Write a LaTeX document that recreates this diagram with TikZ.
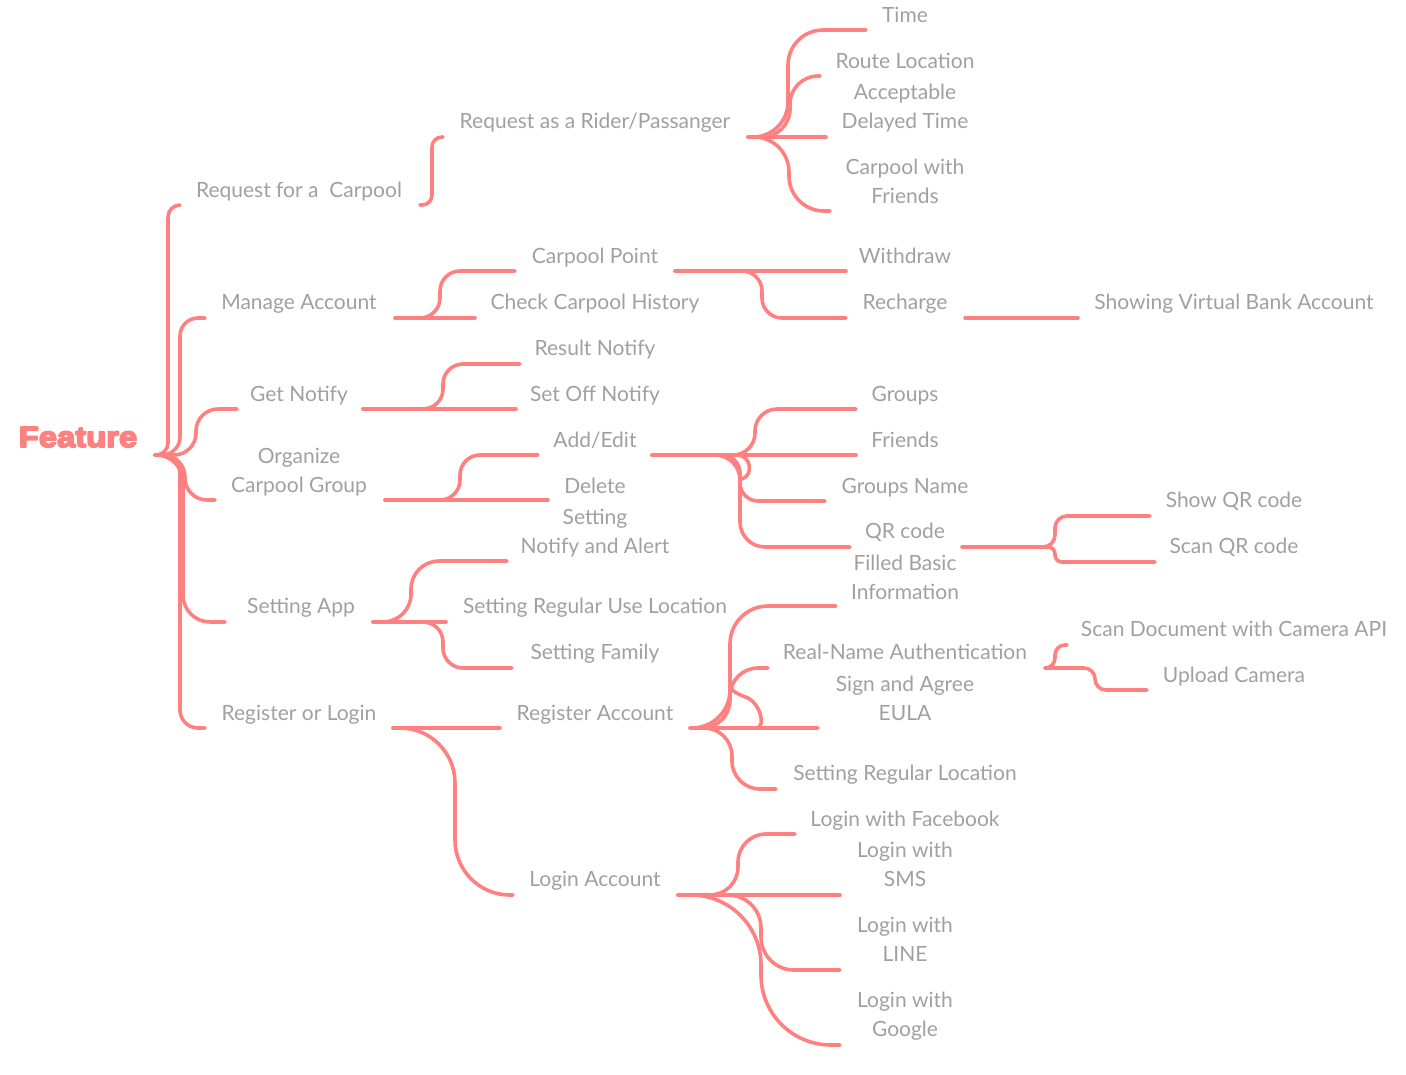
\documentclass[tikz,border=0pt]{standalone}
\usepackage{fontspec}
\setmainfont{Lato}
\newfontfamily\rootfont[BoldFeatures={FakeBold=6,FakeStretch=1.13}]{Liberation Sans}
\usepackage{tikz}
\usetikzlibrary{calc,positioning}
\definecolor{mmred}{HTML}{FF8080}
\definecolor{mmgray}{HTML}{A0A0A0}
\tikzset{
	bend at/.store in=\bendat,
	bend at=30,
	twig/.style={rounded corners=#1,
		to path={let \p1=(\tikztostart), \p2=(\tikztotarget) in
			-| ({\x1+\bendat},\y2) -- (\tikztotarget)}},
	twig/.default=20pt,
	topic/.style={text=mmgray, font=\fontsize{21}{29}\selectfont, align=center, anchor=base, inner sep=0pt},
	root/.style={text=mmred, font=\rootfont\fontsize{29}{29}\selectfont\bfseries, anchor=base, inner sep=0pt}
}

\begin{document}
\begin{tikzpicture}[x=1pt,y=-1pt,color=mmred,line width=3.6pt,line cap=round,line join=round]
	\useasboundingbox (0,0) rectangle (1406,1074);
	% topics
	\node [root] (feature) at (78,447) {Feature};
	\node [topic] (reqcar) at (299,197) {Request for a~~Carpool};
	\node [topic] (manage) at (299,309) {Manage Account};
	\node [topic] (notify) at (299,401) {Get Notify};
	\node [topic] (organize) at (299,492) {Organize\\Carpool Group};
	\node [topic] (app) at (301,613) {Setting App};
	\node [topic] (reglog) at (299,720) {Register or Login};
	\node [topic] (rider) at (595,128) {Request as a Rider/Passanger};
	\node [topic] (cpoint) at (595,263) {Carpool Point};
	\node [topic] (history) at (595,309) {Check Carpool History};
	\node [topic] (rnotify) at (595,355) {Result Notify};
	\node [topic] (setoff) at (595,401) {Set Off Notify};
	\node [topic] (addedit) at (595,447) {Add/Edit};
	\node [topic] (delete) at (595,493) {Delete};
	\node [topic] (alert) at (595,553) {Setting\\Notify and Alert};
	\node [topic] (reguse) at (595,613) {Setting Regular Use Location};
	\node [topic] (family) at (595,659) {Setting Family};
	\node [topic] (regacc) at (595,720) {Register Account};
	\node [topic] (loginacc) at (595,886) {Login Account};
	\node [topic] (time) at (905,22) {Time};
	\node [topic] (route) at (905,68) {Route Location};
	\node [topic] (delay) at (905,128) {Acceptable\\Delayed Time};
	\node [topic] (friends) at (905,203) {Carpool with\\Friends};
	\node [topic] (withdraw) at (905,263) {Withdraw};
	\node [topic] (recharge) at (905,309) {Recharge};
	\node [topic] (groups) at (905,401) {Groups};
	\node [topic] (frnds) at (905,447) {Friends};
	\node [topic] (gname) at (905,493) {Groups Name};
	\node [topic] (qr) at (905,538) {QR code};
	\node [topic] (filled) at (905,599) {Filled Basic\\Information};
	\node [topic] (realname) at (905,659) {Real-Name Authentication};
	\node [topic] (sign) at (905,720) {Sign and Agree\\EULA};
	\node [topic] (setloc) at (905,780) {Setting Regular Location};
	\node [topic] (fb) at (905,826) {Login with Facebook};
	\node [topic] (sms) at (905,886) {Login with\\SMS};
	\node [topic] (lline) at (905,961) {Login with\\LINE};
	\node [topic] (google) at (905,1036) {Login with\\Google};
	\node [topic] (bank) at (1234,309) {Showing Virtual Bank Account};
	\node [topic] (showqr) at (1234,507) {Show QR code};
	\node [topic] (scanqr) at (1234,553) {Scan QR code};
	\node [topic] (scandoc) at (1234,636) {Scan Document with Camera API};
	\node [topic] (upload) at (1234,682) {Upload Camera};
	% ports
	\coordinate (feat-out) at (155,455);
	\coordinate (reqcar-in) at (180,205);
	\coordinate (reqcar-out) at (420,205);
	\coordinate (manage-in) at (205,318);
	\coordinate (manage-out) at (395,318);
	\coordinate (notify-in) at (237,409);
	\coordinate (notify-out) at (363,409);
	\coordinate (organize-in) at (215,500);
	\coordinate (organize-out) at (385,500);
	\coordinate (app-in) at (225,622);
	\coordinate (app-out) at (373,622);
	\coordinate (reglog-in) at (205,728);
	\coordinate (reglog-out) at (393,728);
	\coordinate (rider-in) at (443,137);
	\coordinate (rider-out) at (748,137);
	\coordinate (cpoint-in) at (515,271);
	\coordinate (cpoint-out) at (675,271);
	\coordinate (history-in) at (475,318);
	\coordinate (rnotify-in) at (520,364);
	\coordinate (setoff-in) at (516,409);
	\coordinate (addedit-in) at (538,455);
	\coordinate (addedit-out) at (652,455);
	\coordinate (delete-in) at (548,500);
	\coordinate (alert-in) at (507,561);
	\coordinate (reguse-in) at (446,622);
	\coordinate (family-in) at (512,668);
	\coordinate (regacc-in) at (500,728);
	\coordinate (regacc-out) at (690,728);
	\coordinate (loginacc-in) at (513,895);
	\coordinate (loginacc-out) at (678,895);
	\coordinate (time-in) at (866,30);
	\coordinate (route-in) at (820,76);
	\coordinate (delay-in) at (826,137);
	\coordinate (friends-in) at (830,211);
	\coordinate (withdraw-in) at (846,271);
	\coordinate (recharge-in) at (846,318);
	\coordinate (recharge-out) at (965,318);
	\coordinate (groups-in) at (856,409);
	\coordinate (frnds-in) at (856,455);
	\coordinate (gname-in) at (825,501);
	\coordinate (qr-in) at (850,547);
	\coordinate (qr-out) at (962,547);
	\coordinate (filled-in) at (836,606);
	\coordinate (realname-in) at (768,668);
	\coordinate (realname-out) at (1045,668);
	\coordinate (sign-in) at (818,728);
	\coordinate (setloc-in) at (776,789);
	\coordinate (fb-in) at (795,834);
	\coordinate (sms-in) at (840,895);
	\coordinate (lline-in) at (840,970);
	\coordinate (google-in) at (840,1045);
	\coordinate (bank-in) at (1078,318);
	\coordinate (showqr-in) at (1150,516);
	\coordinate (scanqr-in) at (1155,562);
	\coordinate (scandoc-in) at (1067,645);
	\coordinate (upload-in) at (1147,690);
	% branches
	\draw [twig=12pt, bend at=13] (feat-out) to (reqcar-in);
	\draw [twig=18pt, bend at=25] (feat-out) to (manage-in);
	\draw [twig=22pt, bend at=41] (feat-out) to (notify-in);
	\draw [twig=22pt, bend at=30] (feat-out) to (organize-in);
	\draw [twig=27pt, bend at=28] (feat-out) to (app-in);
	\draw [twig=18pt, bend at=25] (feat-out) to (reglog-in);
	\draw [twig=10pt, bend at=12] (reqcar-out) to (rider-in);
	\draw [twig=20pt, bend at=45] (manage-out) to (cpoint-in);
	\draw (manage-out) -- (history-in);
	\draw [twig=20pt, bend at=80] (notify-out) to (rnotify-in);
	\draw (notify-out) -- (setoff-in);
	\draw [twig=20pt, bend at=75] (organize-out) to (addedit-in);
	\draw (organize-out) -- (delete-in);
	\draw [twig=28pt, bend at=38] (app-out) to (alert-in);
	\draw (app-out) -- (reguse-in);
	\draw [twig=20pt, bend at=70] (app-out) to (family-in);
	\draw (reglog-out) -- (regacc-in);
	\draw [twig=55pt, bend at=62] (reglog-out) to (loginacc-in);
	\draw [twig=35pt, bend at=40] (rider-out) to (time-in);
	\draw [twig=28pt, bend at=42] (rider-out) to (route-in);
	\draw (rider-out) -- (delay-in);
	\draw [twig=35pt, bend at=41] (rider-out) to (friends-in);
	\draw (cpoint-out) -- (withdraw-in);
	\draw [twig=20pt, bend at=87] (cpoint-out) to (recharge-in);
	\draw (recharge-out) -- (bank-in);
	\draw [twig=22pt, bend at=103] (addedit-out) to (groups-in);
	\draw (addedit-out) -- (frnds-in);
	\draw [twig=18pt, bend at=88] (addedit-out) to (gname-in)
		($(addedit-out)+(85,0)$) .. controls +(14,0) and +(12,-4) .. ($(addedit-out)+(90,24)$);
	\draw [twig=25pt, bend at=88] (addedit-out) to (qr-in);
	\draw [twig=12pt, bend at=93] (qr-out) to (showqr-in);
	\draw [twig=7pt, bend at=93] (qr-out) to (scanqr-in);
	\draw [twig=38pt, bend at=40] (regacc-out) to (filled-in);
	\draw [twig=28pt, bend at=40] (regacc-out) to (realname-in);
	\draw (regacc-out) -- (sign-in)
		($(regacc-out)+(67,0)$) .. controls +(9,-2) and +(12,6) .. ($(regacc-out)+(58,-30)$)
		.. controls +(-8,-3) and +(2,6) .. ($(regacc-out)+(40,-42)$);
	\draw [twig=28pt, bend at=42] (regacc-out) to (setloc-in);
	\draw [twig=10pt, bend at=10] (realname-out) to (scandoc-in);
	\draw [twig=11pt, bend at=50] (realname-out) to (upload-in);
	\draw [twig=28pt, bend at=60] (loginacc-out) to (fb-in);
	\draw (loginacc-out) -- (sms-in);
	\draw [twig=33pt, bend at=83] (loginacc-out) to (lline-in);
	\draw [twig=70pt, bend at=83] (loginacc-out) to (google-in);
\end{tikzpicture}
\end{document}
